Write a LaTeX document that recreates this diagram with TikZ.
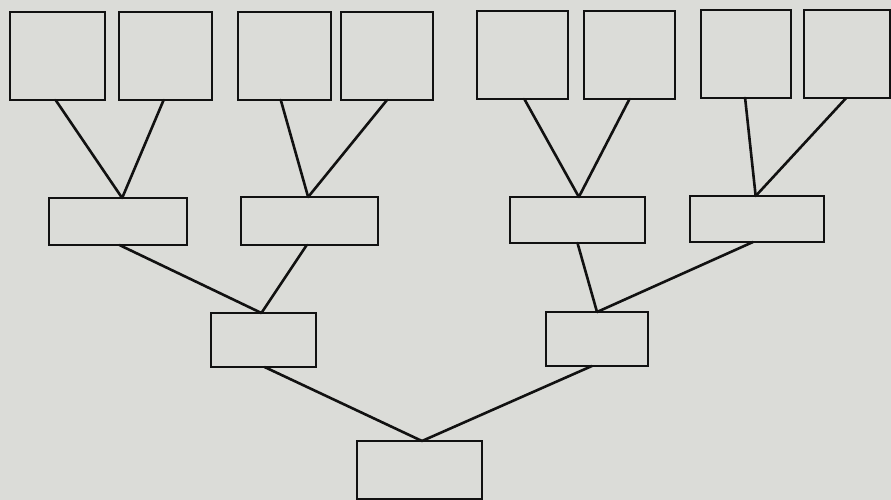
\documentclass[tikz,border=0pt]{standalone}
\usetikzlibrary{calc}
\definecolor{paper}{HTML}{DBDCD8}
\definecolor{ink}{HTML}{111111}
\begin{document}
\begin{tikzpicture}[x=1pt,y=-1pt,
  box/.style={draw=ink,line width=2.8pt,inner sep=0pt,outer sep=0pt,fill=none},
  link/.style={draw=ink,line width=2.6pt,line cap=round}]
\fill[paper] (0,0) rectangle (891,500);
\useasboundingbox (0,0) rectangle (891,500);
% top row
\node[box,minimum width=95pt,minimum height=88pt] (b1) at (57.5,56) {};
\node[box,minimum width=93pt,minimum height=88pt] (b2) at (165.5,56) {};
\node[box,minimum width=93pt,minimum height=88pt] (b3) at (284.5,56) {};
\node[box,minimum width=92pt,minimum height=88pt] (b4) at (387,56) {};
\node[box,minimum width=91pt,minimum height=88pt] (b5) at (522.5,55) {};
\node[box,minimum width=91pt,minimum height=88pt] (b6) at (629.5,55) {};
\node[box,minimum width=90pt,minimum height=88pt] (b7) at (746,54) {};
\node[box,minimum width=86pt,minimum height=88pt] (b8) at (847,54) {};
% second row
\node[box,minimum width=138pt,minimum height=47pt] (mA) at (118,221.5) {};
\node[box,minimum width=137pt,minimum height=48pt] (mB) at (309.5,221) {};
\node[box,minimum width=135pt,minimum height=46pt] (mC) at (577.5,220) {};
\node[box,minimum width=134pt,minimum height=46pt] (mD) at (757,219) {};
% third row
\node[box,minimum width=105pt,minimum height=54pt] (lE) at (263.5,340) {};
\node[box,minimum width=102pt,minimum height=54pt] (lF) at (597,339) {};
% root
\node[box,minimum width=125pt,minimum height=58pt] (root) at (419.5,470) {};
% connectors
\draw[link] ($(b1.south west)!0.48!(b1.south east)$) -- ($(mA.north west)!0.53!(mA.north east)$);
\draw[link] ($(b2.south west)!0.48!(b2.south east)$) -- ($(mA.north west)!0.53!(mA.north east)$);
\draw[link] ($(b3.south west)!0.46!(b3.south east)$) -- ($(mB.north west)!0.49!(mB.north east)$);
\draw[link] ($(b4.south west)!0.50!(b4.south east)$) -- ($(mB.north west)!0.49!(mB.north east)$);
\draw[link] ($(b5.south west)!0.52!(b5.south east)$) -- ($(mC.north west)!0.51!(mC.north east)$);
\draw[link] ($(b6.south west)!0.50!(b6.south east)$) -- ($(mC.north west)!0.51!(mC.north east)$);
\draw[link] ($(b7.south west)!0.49!(b7.south east)$) -- ($(mD.north west)!0.49!(mD.north east)$);
\draw[link] ($(b8.south west)!0.49!(b8.south east)$) -- ($(mD.north west)!0.49!(mD.north east)$);
\draw[link] ($(mA.south west)!0.51!(mA.south east)$) -- ($(lE.north west)!0.48!(lE.north east)$);
\draw[link] ($(mB.south west)!0.48!(mB.south east)$) -- ($(lE.north west)!0.48!(lE.north east)$);
\draw[link] ($(mC.south west)!0.50!(mC.south east)$) -- ($(lF.north west)!0.50!(lF.north east)$);
\draw[link] ($(mD.south west)!0.47!(mD.south east)$) -- ($(lF.north west)!0.50!(lF.north east)$);
\draw[link] ($(lE.south west)!0.51!(lE.south east)$) -- ($(root.north west)!0.52!(root.north east)$);
\draw[link] ($(lF.south west)!0.45!(lF.south east)$) -- ($(root.north west)!0.52!(root.north east)$);
\end{tikzpicture}
\end{document}
